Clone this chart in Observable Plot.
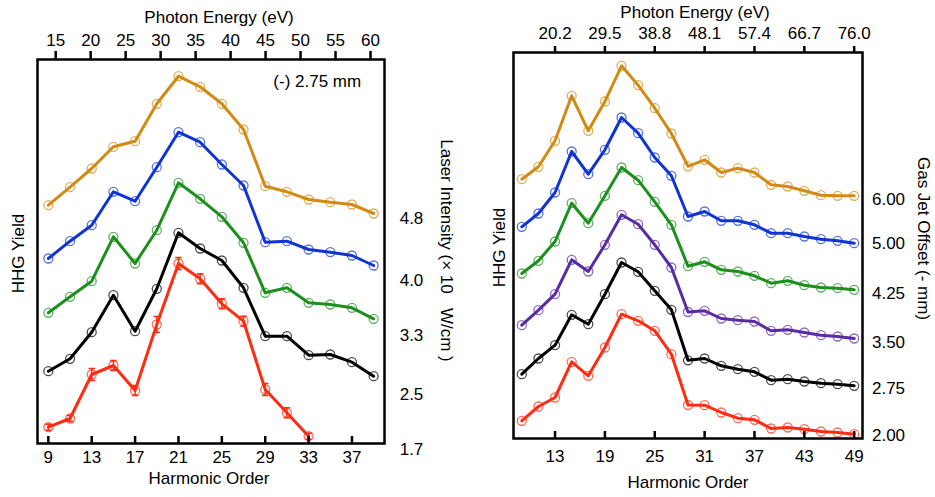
<!DOCTYPE html>
<html><head><meta charset="utf-8">
<script src="https://cdn.jsdelivr.net/npm/d3@7"></script>
<script src="https://cdn.jsdelivr.net/npm/@observablehq/plot@0.6"></script>
<style>
html,body{margin:0;padding:0;background:#fff;}
#wrap{position:relative;width:935px;height:497px;overflow:hidden;background:#fff;}
#wrap svg{position:absolute;top:0;}
#wrap svg, #wrap svg text, #wrap svg g{font-family:"Liberation Sans", Arial, Helvetica, sans-serif !important;}
</style></head><body><div id="wrap"></div>
<script>
// ---------- Left panel: laser intensity scan ----------
const harmonicsLeft = [9,11,13,15,17,19,21,23,25,27,29,31,33,35,37,39];
const left48 = [238.3,256.3,275,296.7,302.3,339.7,367.3,356.7,339.7,314,257.3,251.7,244,241.3,239,230];
const left40 = [185,202.3,218.3,251.7,242.3,276.3,311.3,301.3,279,258,201.3,202.3,194,191.3,188,178];
const left33 = [130.7,146.7,162.3,206.7,180,213.3,260.7,244.7,226.7,200.7,150.7,155.7,140.7,139,135.7,124.7];
const left25 = [72.3,84.7,111.3,148.3,112.3,154.7,210.7,195,183,155.7,107.3,107.3,88.3,89,81.3,67.3];
const left17 = [16.3,25,69,78,53,119,180,164.7,139.7,122.3,54,30.7,7.3];
const left17Err = [3,3,6,5,5,8,6,5,5,5,6,5,3];
const leftBottomTicks = [9,13,17,21,25,29,33,37];
const leftTopEnergies = [15,20,25,30,35,40,45,50,55,60];
const leftSideLabels = ["4.8","4.0","3.3","2.5","1.7"];
const leftSideLabelY = [224.7,163,108,49,-6];

// ---------- Right panel: gas jet offset scan ----------
const harmonicsRight = [9,11,13,15,17,19,21,23,25,27,29,31,33,35,37,39,41,43,45,47,49];
const right600 = [259.3,271.7,297.7,342.7,307.7,337,372.7,353.3,330.3,305,272.2,278.7,266,270.3,266,253.7,252,247.7,243.3,242.7,242.7];
const right500 = [211.7,225,246,287,264.3,288.7,321,305.3,281,262.7,222,227,217.7,217.7,213.7,205.3,205.3,202,199.3,197.7,195.3];
const right425 = [165,177.7,197,235.3,215.3,242.7,271,258.3,236.7,213.7,172.3,176.7,168.7,167,162.7,155.3,157.7,153.3,151,150.3,148.7];
const right350 = [113.3,128.3,144.3,178.7,167,193.7,223.7,214.3,193.7,171,126.5,127.7,120,118.3,117,107.7,108.7,106,103.3,102,100];
const right275 = [64.3,80,93.3,123.7,114.3,144.3,176,166.7,147.7,128.7,78.2,80,72.7,69.3,66.7,58.3,59.3,57,55.3,54.3,52.7];
const right200 = [17.7,32,41,76.7,62.7,91,124.3,117.7,107.7,84.3,33.5,33.3,26,20.3,18.7,10,11,9.3,7,6,4.3];
const rightBottomTicks = [13,19,25,31,37,43,49];
const rightTopLabels = ["20.2","29.5","38.8","48.1","57.4","66.7","76.0"];
const rightSideLabels = ["6.00","5.00","4.25","3.50","2.75","2.00"];
const rightSideLabelY = [239,194.7,144.7,96.3,49.7,3];

const C = {gold:"#D18B14", blue:"#1034D4", green:"#1D8F1D", black:"#000000", red:"#FF2C12", purple:"#5A2CA3"};
const FONT = "Liberation Sans, Arial, Helvetica, sans-serif";
const EV_PER_HARMONIC = 1.55;

function rows(h, vals, color, err) {
  return vals.map((v, i) => ({h: h[i], v, color, e: err ? err[i] : 0}));
}

const leftData = [
  rows(harmonicsLeft, left48, C.gold),
  rows(harmonicsLeft, left40, C.blue),
  rows(harmonicsLeft, left33, C.green),
  rows(harmonicsLeft, left25, C.black),
  rows(harmonicsLeft, left17, C.red, left17Err)
];
const rightData = [
  rows(harmonicsRight, right600, C.gold),
  rows(harmonicsRight, right500, C.blue),
  rows(harmonicsRight, right425, C.green),
  rows(harmonicsRight, right350, C.purple),
  rows(harmonicsRight, right275, C.black),
  rows(harmonicsRight, right200, C.red)
];

function seriesMarks(data) {
  const m = [];
  for (const s of data) {
    m.push(Plot.line(s, {x: "h", y: "v", stroke: d => d.color, strokeWidth: 3, curve: "linear"}));
  }
  for (const s of data) {
    const withErr = s.filter(d => d.e > 0);
    if (withErr.length) {
      m.push(Plot.ruleX(withErr, {x: "h", y1: d => d.v - d.e, y2: d => d.v + d.e, stroke: d => d.color, strokeWidth: 1.5}));
      m.push(Plot.link(withErr, {x1: d => d.h - 0.3, x2: d => d.h + 0.3, y1: d => d.v + d.e, y2: d => d.v + d.e, stroke: d => d.color, strokeWidth: 1.5}));
      m.push(Plot.link(withErr, {x1: d => d.h - 0.3, x2: d => d.h + 0.3, y1: d => d.v - d.e, y2: d => d.v - d.e, stroke: d => d.color, strokeWidth: 1.5}));
    }
    m.push(Plot.dot(s, {x: "h", y: "v", r: 4.5, stroke: d => d.color, fill: "none", strokeWidth: 1.3, strokeOpacity: 0.7}));
  }
  return m;
}

const txt = {fontSize: 17, fontFamily: FONT, fill: "#000"};

// Left plot
const leftTopPos = leftTopEnergies.map(e => e / EV_PER_HARMONIC);
const leftPlot = Plot.plot({
  width: 470, height: 497,
  marginLeft: 37, marginRight: 86, marginTop: 59, marginBottom: 54,
  x: {domain: [8, 40]},
  y: {domain: [0, 384], axis: null},
  style: {fontFamily: FONT, fontSize: "17px", background: "transparent", color: "#000", overflow: "visible"},
  marks: [
    ...seriesMarks(leftData),
    Plot.frame({stroke: "#000", strokeWidth: 2.5}),
    Plot.ruleX(leftBottomTicks, {x: d => d, y1: 0, y2: 7, stroke: "#000", strokeWidth: 2.5}),
    Plot.ruleX(leftTopPos, {x: d => d, y1: 384, y2: 392, stroke: "#000", strokeWidth: 2.5}),
    Plot.axisX({anchor: "bottom", ticks: leftBottomTicks, tickSize: 0, tickPadding: 7, label: null, ...txt}),
    Plot.axisX({anchor: "top", ticks: leftTopPos, tickSize: 0, tickPadding: 14, label: null, ...txt,
      tickFormat: d => String(Math.round(d * EV_PER_HARMONIC))}),
    Plot.text(["Harmonic Order"], {frameAnchor: "bottom", dy: 40, dx: -2, textAnchor: "middle", ...txt}),
    Plot.text(["Photon Energy (eV)"], {frameAnchor: "top", dy: -49, dx: 8, textAnchor: "middle", ...txt}),
    Plot.text(["HHG Yield"], {frameAnchor: "left", dx: -19, dy: 2, rotate: -90, textAnchor: "middle", ...txt}),
    Plot.text(["Laser Intensity (× 10   W/cm )"], {frameAnchor: "right", dx: 62, dy: -1, rotate: 90, textAnchor: "middle", ...txt}),
    Plot.text(leftSideLabels, {frameAnchor: "right", y: (d, i) => leftSideLabelY[i], dx: 27, textAnchor: "middle", ...txt}),
    Plot.text(["(-) 2.75 mm"], {x: [33.8], y: [362], textAnchor: "middle", ...txt})
  ]
});
leftPlot.style.left = "0px";
document.getElementById("wrap").appendChild(leftPlot);

// Right plot
const rightLabelMap = new Map(rightBottomTicks.map((t, i) => [t, rightTopLabels[i]]));
const rightPlot = Plot.plot({
  width: 465, height: 497,
  marginLeft: 43, marginRight: 73, marginTop: 52, marginBottom: 59,
  x: {domain: [8, 50]},
  y: {domain: [0, 386], axis: null},
  style: {fontFamily: FONT, fontSize: "17px", background: "transparent", color: "#000", overflow: "visible"},
  marks: [
    ...seriesMarks(rightData),
    Plot.frame({stroke: "#000", strokeWidth: 2.5}),
    Plot.ruleX(rightBottomTicks, {x: d => d, y1: 0, y2: 7, stroke: "#000", strokeWidth: 2.5}),
    Plot.ruleX(rightBottomTicks, {x: d => d, y1: 386, y2: 392, stroke: "#000", strokeWidth: 2.5}),
    Plot.axisX({anchor: "bottom", ticks: rightBottomTicks, tickSize: 0, tickPadding: 11, label: null, ...txt}),
    Plot.axisX({anchor: "top", ticks: rightBottomTicks, tickSize: 0, tickPadding: 14, label: null, ...txt,
      tickFormat: d => rightLabelMap.get(d)}),
    Plot.text(["Harmonic Order"], {frameAnchor: "bottom", dy: 49, dx: 0, textAnchor: "middle", ...txt}),
    Plot.text(["Photon Energy (eV)"], {frameAnchor: "top", dy: -47, dx: 7, textAnchor: "middle", ...txt}),
    Plot.text(["HHG Yield"], {frameAnchor: "left", dx: -14, dy: 2, rotate: -90, textAnchor: "middle", ...txt}),
    Plot.text(["Gas Jet Offset (- mm)"], {frameAnchor: "right", dx: 61, dy: -7, rotate: 90, textAnchor: "middle", ...txt}),
    Plot.text(rightSideLabels, {frameAnchor: "right", y: (d, i) => rightSideLabelY[i], dx: 26, textAnchor: "middle", ...txt})
  ]
});
rightPlot.style.left = "470px";
document.getElementById("wrap").appendChild(rightPlot);
</script>
</body></html>
